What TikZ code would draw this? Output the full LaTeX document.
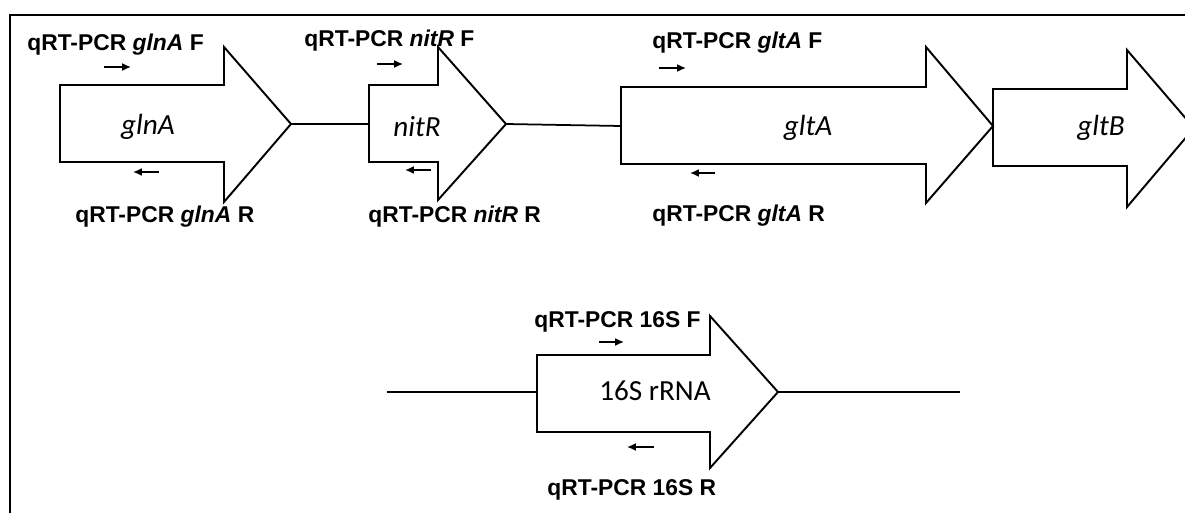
\documentclass[tikz,border=0pt]{standalone}
\usepackage{fontspec}
\setmainfont{Liberation Sans}
\newfontfamily\genefont{Carlito}
\usetikzlibrary{arrows.meta, positioning}

\begin{document}
\begin{tikzpicture}[
    x=0.02cm, y=-0.02cm,
    gene/.style={draw, line width=1.1pt, line join=miter},
    link/.style={line width=1pt},
    primer/.style={-{Latex[length=5pt, width=4.5pt]}, line width=0.9pt},
    plabel/.style={font=\fontsize{13}{15}\selectfont\bfseries, inner sep=0pt, anchor=base west},
    gname/.style={font=\fontsize{16.6}{20}\selectfont\genefont\itshape, inner sep=0pt}
]
    \clip (0,0) rectangle (1185,513);
    % frame
    \draw[line width=1.4pt] (1185,15) -- (10,15) -- (10,513);

    % operon
    \draw[gene] (60,85) -- (224,85) -- (224,47) -- (291,124) coordinate (glnA-tip)
        -- (224,202) -- (224,162) -- (60,162) -- cycle;
    \coordinate (nitR-tail) at (369,124);
    \draw[gene] (369,85) -- (438,85) -- (438,47) -- (506,124) coordinate (nitR-tip)
        -- (438,200) -- (438,162) -- (369,162) -- cycle;
    \coordinate (gltA-tail) at (621,126);
    \draw[gene] (621,87) -- (926,87) -- (926,47) -- (993,126) coordinate (gltA-tip)
        -- (926,203) -- (926,164) -- (621,164) -- cycle;
    \draw[gene] (993,89) -- (1127,89) -- (1127,50) -- (1194,128)
        -- (1127,207) -- (1127,166) -- (993,166) -- cycle;

    \node[gname] (glnA) at (148,127) {glnA};
    \node[gname] (nitR) at (417,127) {nitR};
    \node[gname] (gltA) at (808,128) {gltA};
    \node[gname] (gltB) at (1101,128) {gltB};

    \draw[link] (glnA-tip) -- (nitR-tail);
    \draw[link] (nitR-tip) -- (gltA-tail);

    % primers
    \draw[primer] (104,67) -- (131,67);
    \draw[primer] (159,172) -- (133,172);
    \draw[primer] (377,64) -- (403,64);
    \draw[primer] (431,170) -- (405,170);
    \draw[primer] (659,68) -- (686,68);
    \draw[primer] (715,173) -- (690,173);

    \node[plabel] (glnA-F) at (27,51) {qRT-PCR \textit{glnA} F};
    \node[plabel] (glnA-R) at (75,222) {qRT-PCR \textit{glnA} R};
    \node[plabel] (nitR-F) at (304,47) {qRT-PCR \textit{nitR} F};
    \node[plabel] (nitR-R) at (368,222) {qRT-PCR \textit{nitR} R};
    \node[plabel] (gltA-F) at (652,49) {qRT-PCR \textit{gltA} F};
    \node[plabel] (gltA-R) at (652,221) {qRT-PCR \textit{gltA} R};

    % 16S
    \coordinate (rrs-left) at (387,392);
    \coordinate (rrs-tail) at (537,392);
    \coordinate (rrs-right) at (960,392);
    \draw[gene] (537,355) -- (710,355) -- (710,316) -- (778,392) coordinate (rrs-tip)
        -- (710,468) -- (710,432) -- (537,432) -- cycle;
    \node[gname, font=\fontsize{16.6}{20}\selectfont\genefont] (rrs) at (655,391) {16S rRNA};
    \draw[link] (rrs-left) -- (rrs-tail);
    \draw[link] (rrs-tip) -- (rrs-right);

    \draw[primer] (599,342) -- (624,342);
    \draw[primer] (654,447) -- (627,447);
    \node[plabel] (rrs-F) at (534,327) {qRT-PCR 16S F};
    \node[plabel] (rrs-R) at (547,495) {qRT-PCR 16S R};
\end{tikzpicture}
\end{document}
